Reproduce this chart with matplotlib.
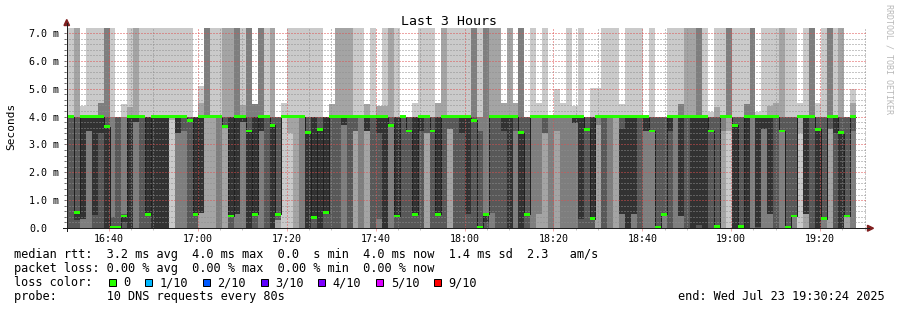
import matplotlib
matplotlib.use("Agg")
import matplotlib.pyplot as plt
import numpy as np
from matplotlib.lines import Line2D
from matplotlib.patches import Polygon, Rectangle

plt.rcParams["font.family"] = "DejaVu Sans Mono"

# median rtt per 80 s step (ms)
median_ms = [
    4.0, 0.55, 4.0, 4.0, 4.0, 4.0, 3.63, 0.02, 0.02, 0.43,
    4.0, 4.0, 4.0, 0.49, 4.0, 4.0, 4.0, 4.0, 4.0, 4.0,
    3.87, 0.49, 4.0, 4.0, 4.0, 4.0, 3.63, 0.43, 4.0, 4.0,
    3.48, 0.49, 4.0, 4.0, 3.68, 0.49, 4.0, 4.0, 4.0, 4.0,
    3.42, 0.38, 3.54, 0.55, 4.0, 4.0, 4.0, 4.0, 4.0, 4.0,
    4.0, 4.0, 4.0, 4.0, 3.68, 0.43, 4.0, 3.48, 0.49, 4.0,
    4.0, 3.48, 0.49, 4.0, 4.0, 4.0, 4.0, 4.0, 3.87, 0.02,
    0.49, 4.0, 4.0, 4.0, 4.0, 4.0, 3.42, 0.49, 4.0, 4.0,
    4.0, 4.0, 4.0, 4.0, 4.0, 4.0, 4.0, 3.54, 0.33, 4.0,
    4.0, 4.0, 4.0, 4.0, 4.0, 4.0, 4.0, 4.0, 3.48, 0.02,
    0.49, 4.0, 4.0, 4.0, 4.0, 4.0, 4.0, 4.0, 3.48, 0.05,
    4.0, 4.0, 3.68, 0.05, 4.0, 4.0, 4.0, 4.0, 4.0, 4.0,
    3.48, 0.02, 0.43, 4.0, 4.0, 4.0, 3.54, 0.33, 4.0, 4.0,
    3.42, 0.43, 4.0,
]

# the 10 sorted DNS times of every step (ms); 9.0 = off the top of the graph
pings_ms = [
    [0, 0, 0, 0, 4, 4, 4, 4, 4, 9],
    [0, 0, 0, 0, 0.3, 0.55, 4, 4, 9, 9],
    [0, 0, 0, 0.33, 0.33, 4, 4, 4, 4, 4.37],
    [0, 0, 0, 3.48, 3.48, 4, 4, 4, 4, 9],
    [0, 0, 0, 0, 0.45, 4, 4, 4, 4, 9],
    [0, 0, 0, 0, 3.42, 4, 4, 4.5, 4.5, 9],
    [0, 0, 0, 0, 0, 3.63, 4, 9, 9, 9],
    [0, 0, 0, 0, 0, 0.02, 0.4, 4, 4, 9],
    [0, 0, 0, 0, 0, 0.02, 4, 4, 4, 4],
    [0, 0, 0, 0, 0.2, 0.43, 0.5, 4, 4, 4.44],
    [0, 0, 0, 0, 0, 4, 4, 4, 4.33, 9],
    [0, 0, 0, 3.8, 3.8, 4, 4, 4, 9, 9],
    [0, 0, 0, 0, 4, 4, 4, 4, 4, 9],
    [0, 0, 0, 0, 0.49, 4, 4, 4, 4, 9],
    [0, 0, 0, 0, 0, 4, 4, 4, 4, 9],
    [0, 0, 0, 0, 0, 4, 4, 4, 4, 9],
    [0, 0, 0, 0, 0, 4, 4, 4, 4, 9],
    [0, 3.87, 4, 4, 4, 4, 4, 4, 4, 9],
    [0, 0, 0, 3.42, 3.42, 4, 4, 4, 4, 9],
    [0, 0, 0, 3.5, 4, 4, 4, 4, 4, 9],
    [0, 0, 0, 0, 3.87, 3.87, 4, 4, 4, 9],
    [0, 0, 0, 0, 0.49, 4, 4, 4, 4, 4],
    [0, 0, 0.55, 0.55, 0.55, 4, 4, 4, 4.5, 5.09],
    [0, 0, 4, 4, 4, 4, 4, 9, 9, 9],
    [0, 0, 4, 4, 4, 4, 4, 4, 4, 9],
    [0, 0, 0, 4, 4, 4, 4, 4, 4, 9],
    [0, 0, 3.63, 3.63, 3.63, 3.63, 4, 4, 9, 9],
    [0, 0, 0, 0, 0.43, 4, 4, 4, 9, 9],
    [0, 0, 0, 0.5, 0.5, 4, 4, 9, 9, 9],
    [0, 0, 0, 3.8, 3.8, 4, 4, 4, 4.4, 9],
    [0, 0, 0, 0, 0, 3.48, 4, 9, 9, 9],
    [0, 0, 0, 0, 0.49, 4, 4, 4.45, 4.45, 4.45],
    [0, 0, 0, 3.5, 3.5, 4, 4, 9, 9, 9],
    [0, 0, 0, 0, 4, 4, 4, 4, 4, 9],
    [0, 0, 0, 0, 0, 3.68, 4, 4, 9, 9],
    [0, 0, 0.3, 0.3, 0.49, 0.49, 4, 4, 4, 4],
    [0, 4, 4, 4, 4, 4, 4, 4, 4, 4.5],
    [0, 3.42, 4, 4, 4, 4, 4, 4, 4, 9],
    [0, 0, 4, 4, 4, 4, 4, 4, 4, 9],
    [0, 0, 0, 4, 4, 4, 4, 4, 4, 9],
    [0, 0, 0, 0, 0, 3.42, 4, 4, 4, 9],
    [0, 0, 0, 0, 0.38, 4, 4, 4, 4, 9],
    [0, 0, 0, 0, 0, 3.54, 4, 4, 4, 9],
    [0, 0, 0, 0, 0.55, 4, 4, 4, 4, 4],
    [0, 0, 0, 0, 4, 4, 4, 4, 4.45, 4.45],
    [0, 0, 0, 0, 4, 4, 4, 4, 9, 9],
    [0, 0, 0, 3.7, 3.7, 4, 4, 4, 9, 9],
    [0, 0, 0, 0, 4, 4, 4, 4, 9, 9],
    [0, 0, 3.48, 3.48, 4, 4, 4, 4, 4, 9],
    [0, 0, 0, 4, 4, 4, 4, 4, 4, 9],
    [0, 0, 3.5, 3.5, 3.5, 4, 4, 4, 4.45, 4.45],
    [0, 0, 0, 0, 4, 4, 4, 4, 4, 9],
    [0, 0, 0, 0.33, 3.42, 4, 4, 4, 4.37, 4.37],
    [0, 0, 0, 0, 0, 4, 4, 4, 4.37, 9],
    [0, 0, 0, 3.68, 3.68, 3.68, 4, 4, 9, 9],
    [0, 0, 0, 0, 0.43, 4, 4, 4, 4, 9],
    [0, 0, 0, 0, 4, 4, 4, 4, 4, 4],
    [0, 0, 0, 0, 3.48, 3.48, 4, 4, 4, 4],
    [0, 0, 0, 0, 0.49, 4, 4, 4, 4, 4.5],
    [0, 0, 0, 0, 3.5, 4, 4, 4, 4, 9],
    [0, 0, 3.42, 3.42, 4, 4, 4, 4, 4, 9],
    [0, 0, 0, 0, 3.48, 3.48, 4, 4, 4, 9],
    [0, 0, 0, 0, 0.49, 4, 4, 4, 4.5, 4.5],
    [0, 0, 0, 0, 4, 4, 4, 4, 9, 9],
    [0, 0, 3.54, 3.54, 4, 4, 4, 4, 4, 9],
    [0, 0, 0, 0, 4, 4, 4, 4, 4, 9],
    [0, 0, 0, 0, 3.42, 4, 4, 4, 4, 9],
    [0, 0, 0, 0, 0.49, 4, 4, 4, 4, 9],
    [0, 0, 0, 0, 3.87, 3.87, 4, 9, 9, 9],
    [0, 0, 0, 0, 0, 0.02, 3.48, 4, 4, 9],
    [0, 0, 0, 0, 0.2, 0.49, 0.49, 9, 9, 9],
    [0, 0, 0, 0.55, 4, 4, 4, 4, 9, 9],
    [0, 0, 0, 0, 4, 4, 4, 4, 9, 9],
    [0, 0, 0, 0, 3.48, 4, 4, 4, 4.5, 4.5],
    [0, 0, 0, 0, 0, 4, 4, 4, 9, 9],
    [0, 0, 0, 3.48, 4, 4, 4, 4, 4.5, 4.5],
    [0, 0, 0, 0, 0, 3.42, 4, 9, 9, 9],
    [0, 0, 0, 0, 0.49, 0.49, 4, 4, 4, 4],
    [0, 0, 0, 4, 4, 4, 4, 4, 4, 9],
    [0, 0, 0.49, 4, 4, 4, 4, 4, 4, 4.5],
    [0, 0, 3.42, 3.42, 4, 4, 4, 4, 4, 9],
    [0, 0, 0, 4, 4, 4, 4, 4, 4, 4],
    [0, 0, 3.48, 4, 4, 4, 4, 4, 4, 5.0],
    [0, 0, 0, 4, 4, 4, 4, 4, 4, 4.5],
    [0, 0, 0, 4, 4, 4, 4, 4, 4, 9],
    [0, 0, 0, 3.78, 3.78, 4, 4, 4, 4, 4.37],
    [0, 0, 0, 0, 0.33, 4, 4, 4, 4, 9],
    [0, 0, 0, 0, 3.54, 3.54, 4, 4, 4, 4],
    [0, 0, 0, 0, 0.33, 4, 4, 4, 4, 5.02],
    [0, 0, 3.7, 4, 4, 4, 4, 4, 4, 5.02],
    [0, 0, 0, 0, 4, 4, 4, 4, 4, 9],
    [0, 0, 0, 4, 4, 4, 4, 4, 4, 9],
    [0, 0, 4, 4, 4, 4, 4, 4, 4, 9],
    [0, 0, 0, 0.49, 0.49, 3.54, 4, 4, 4, 4.45],
    [0, 0, 0, 0, 0, 4, 4, 4, 4, 9],
    [0, 0, 0, 0.49, 0.49, 4, 4, 4, 4, 9],
    [0, 0, 0, 0, 4, 4, 4, 4, 4, 9],
    [0, 0, 0, 3.48, 3.48, 4, 4, 4, 4, 4],
    [0, 0, 0, 3.48, 3.48, 3.48, 4, 4, 4, 9],
    [0, 0, 0.02, 0.02, 0.02, 0.02, 4, 4, 4, 4],
    [0, 0, 0, 0.49, 0.49, 0.49, 4, 4, 4, 4],
    [0, 0, 0, 0, 3.48, 4, 4, 4, 4, 9],
    [0, 0, 0, 4, 4, 4, 4, 4, 4, 9],
    [0, 0, 0, 0.43, 0.43, 4, 4, 4.45, 4.45, 9],
    [0, 0, 0, 0, 4, 4, 4, 4, 9, 9],
    [0, 0, 0, 0, 0, 4, 4, 4, 9, 9],
    [0, 0, 0, 0, 0.1, 4, 4, 9, 9, 9],
    [0, 0, 0, 0, 0, 4, 4, 4, 4, 9],
    [0, 0, 0, 0, 3.48, 3.48, 4, 4, 4, 4.15],
    [0, 0, 0.05, 0.05, 0.05, 0.05, 4, 4, 4.35, 9],
    [0, 0, 3.48, 4, 4, 4, 4, 4, 4, 9],
    [0, 3.48, 4, 4, 4, 4, 4, 9, 9, 9],
    [0, 0, 0, 0, 0, 3.68, 4, 4, 4, 9],
    [0, 0, 0, 0.05, 0.05, 0.05, 4, 4, 4, 9],
    [0, 0, 0, 0, 0, 4, 4, 4.45, 4.45, 9],
    [0, 0, 0, 4, 4, 4, 4, 9, 9, 9],
    [0, 0, 0, 0, 0.05, 4, 4, 4, 4, 4.15],
    [0, 0, 0, 3.54, 3.54, 4, 4, 4, 4, 9],
    [0, 0, 0, 0.49, 0.49, 4, 4, 4, 4.37, 9],
    [0, 0, 0, 0, 4, 4, 4, 4, 4.5, 9],
    [0, 0, 0, 3.48, 3.48, 3.48, 4, 4, 9, 9],
    [0, 0, 0, 0, 0.02, 0.02, 4, 4, 4, 9],
    [0, 0, 0, 0.43, 0.43, 0.43, 4, 4, 4, 9],
    [0, 3.42, 4, 4, 4, 4, 4, 4, 4, 4.5],
    [0, 0, 0.49, 0.49, 0.49, 4, 4, 4, 4, 9],
    [0, 0, 0, 0, 4, 4, 4, 9, 9, 9],
    [0, 0, 0, 0, 0, 3.54, 4, 4, 4, 4.5],
    [0, 0, 0, 0.33, 0.33, 0.33, 4, 4, 4, 9],
    [0, 0, 3.54, 3.54, 4, 4, 4, 9, 9, 9],
    [0, 0, 0, 0, 3.42, 4, 4, 4, 4, 9],
    [0, 0, 0, 0, 0, 3.42, 4, 4, 9, 9],
    [0, 0, 0.43, 0.43, 0.43, 0.43, 4, 4, 4, 4],
    [0, 0, 0, 3.48, 4, 4, 4, 4, 4.5, 5.0],
]

x_tick_labels = ["16:40", "17:00", "17:20", "17:40", "18:00", "18:20", "18:40", "19:00", "19:20"]
y_tick_values = [0, 1, 2, 3, 4, 5, 6, 7]
y_tick_labels = ["0.0", "1.0 m", "2.0 m", "3.0 m", "4.0 m", "5.0 m", "6.0 m", "7.0 m"]

loss_labels = ["0", "1/10", "2/10", "3/10", "4/10", "5/10", "9/10"]
loss_colors = ["#26ff00", "#00b8ff", "#0059ff", "#5e00ff", "#7e00ff", "#dd00ff", "#ff0000"]

stat_lines = [
    "median rtt:  3.2 ms avg  4.0 ms max  0.0  s min  4.0 ms now  1.4 ms sd  2.3   am/s",
    "packet loss: 0.00 % avg  0.00 % max  0.00 % min  0.00 % now",
]
probe_line = "probe:       10 DNS requests every 80s"
end_text = "end: Wed Jul 23 19:30:24 2025"

# layout (pixels / minutes after 16:30:24)
W, H = 897, 310
STEP = 80 / 60.0
FIRST = 0.4
FIRST_TICK = 9.6
YTOP = 7.18
GRID = (143 / 255, 143 / 255, 143 / 255, 0.5)
MGRID = (222 / 255, 79 / 255, 79 / 255, 0.45)
AXIS = "#1f1f1f"
ARROW = "#801f1f"
PX = 72 / 100  # one pixel in points


def fx(px):
    return px / W


def fy(py):
    return 1 - py / H


fig = plt.figure(figsize=(W / 100, H / 100), dpi=100, facecolor="white")
ax = fig.add_axes([fx(66.3), fy(228), 800 / W, 200 / H])
ax.set_xlim(0, 180)
ax.set_ylim(0, YTOP)
for s in ax.spines.values():
    s.set_visible(False)

p = np.array(pings_ms, dtype=float)
med = np.array(median_ms)
n = len(med)
edges = FIRST + STEP * np.arange(n + 1)

# smoke: pairs (1,10) .. (5,6), lighter outside, darker inside
half = 5
for k in range(half):
    g = int(190 / half * (half - 1 - k)) + 50
    lo = np.append(p[:, k], p[-1, k])
    hi = np.append(p[:, 9 - k], p[-1, 9 - k])
    ax.fill_between(edges, lo, hi, step="post", color="#%02x%02x%02x" % (g, g, g),
                    linewidth=0, zorder=1)

med_ext = np.append(med, med[-1])
ax.step(edges, med_ext, where="post", color="#202020", linewidth=PX, zorder=2)
sw = 0.05
ax.fill_between(edges, med_ext - sw, med_ext + sw, step="post", color=loss_colors[0],
                linewidth=0, zorder=3)

# grid
xmaj = FIRST_TICK + 20 * np.arange(len(x_tick_labels))
xmin = [FIRST_TICK - 5 + 5 * i for i in range(37) if i % 4 != 0 and FIRST_TICK - 5 + 5 * i < 180]
ymin = [round(0.2 * i, 1) for i in range(1, 36) if i % 5 != 0]
ax.set_xticks(xmaj)
ax.set_xticks(xmin, minor=True)
ax.set_yticks(y_tick_values)
ax.set_yticks(ymin, minor=True)
dots = (0, (1, 2))
ax.grid(which="minor", color=GRID, linewidth=PX, linestyle=dots, zorder=4)
ax.grid(which="major", color=MGRID, linewidth=PX, linestyle=dots, zorder=4)
ax.set_axisbelow(False)

ax.set_xticklabels(x_tick_labels)
ax.set_yticklabels(y_tick_labels)
ax.tick_params(axis="x", which="major", length=3 * PX, width=PX, color=MGRID, pad=2,
               labelsize=7.2)
ax.tick_params(axis="x", which="minor", length=2 * PX, width=PX, color=GRID)
ax.tick_params(axis="y", which="both", length=2 * PX, width=PX, color="#6f6f6f",
               labelsize=7.2, pad=25.4)
for t in ax.get_yticklabels():
    t.set_horizontalalignment("left")

# axis lines and arrows
fig.add_artist(Line2D([fx(63), fx(869)], [fy(228), fy(228)], color=AXIS, linewidth=PX))
fig.add_artist(Line2D([fx(66.5), fx(66.5)], [fy(231), fy(23)], color=AXIS, linewidth=PX))
fig.add_artist(Polygon([(fx(64), fy(25.5)), (fx(69.5), fy(25.5)), (fx(66.75), fy(19.5))],
                       closed=True, color=ARROW, transform=fig.transFigure))
fig.add_artist(Polygon([(fx(867.5), fy(225.3)), (fx(867.5), fy(231.2)), (fx(873.5), fy(228.25))],
                       closed=True, color=ARROW, transform=fig.transFigure))

# titles
fig.text(fx(448.5), fy(25), "Last 3 Hours", ha="center", va="baseline", fontsize=9.5)
fig.text(fx(11.5), fy(126.5), "Seconds", rotation=90, ha="center", va="center", fontsize=8)
fig.text(fx(888.5), fy(4), "RRDTOOL / TOBI OETIKER", rotation=270, ha="center", va="top",
         fontsize=6, color="#b8b8b8")

# legend
LX, CW, FS = 14.3, 7.15, 8.55
for i, line in enumerate(stat_lines):
    fig.text(fx(LX), fy(258 + 14 * i), line, ha="left", va="baseline", fontsize=FS)
fig.text(fx(LX), fy(286), "loss color:", ha="left", va="baseline", fontsize=FS)
col = 13.2
for lab, c in zip(loss_labels, loss_colors):
    x0 = LX + col * CW
    fig.add_artist(Rectangle((fx(x0), fy(286)), 7 / W, 7 / H, transform=fig.transFigure,
                             facecolor=c, edgecolor="black", linewidth=PX))
    col += 2.04
    fig.text(fx(LX + col * CW), fy(286), lab, ha="left", va="baseline", fontsize=FS)
    col += len(lab) + 2.04
fig.text(fx(LX), fy(300), probe_line, ha="left", va="baseline", fontsize=FS)
fig.text(fx(677.5), fy(300), end_text, ha="left", va="baseline", fontsize=FS)

fig.savefig("out.png", dpi=100, facecolor="white")
